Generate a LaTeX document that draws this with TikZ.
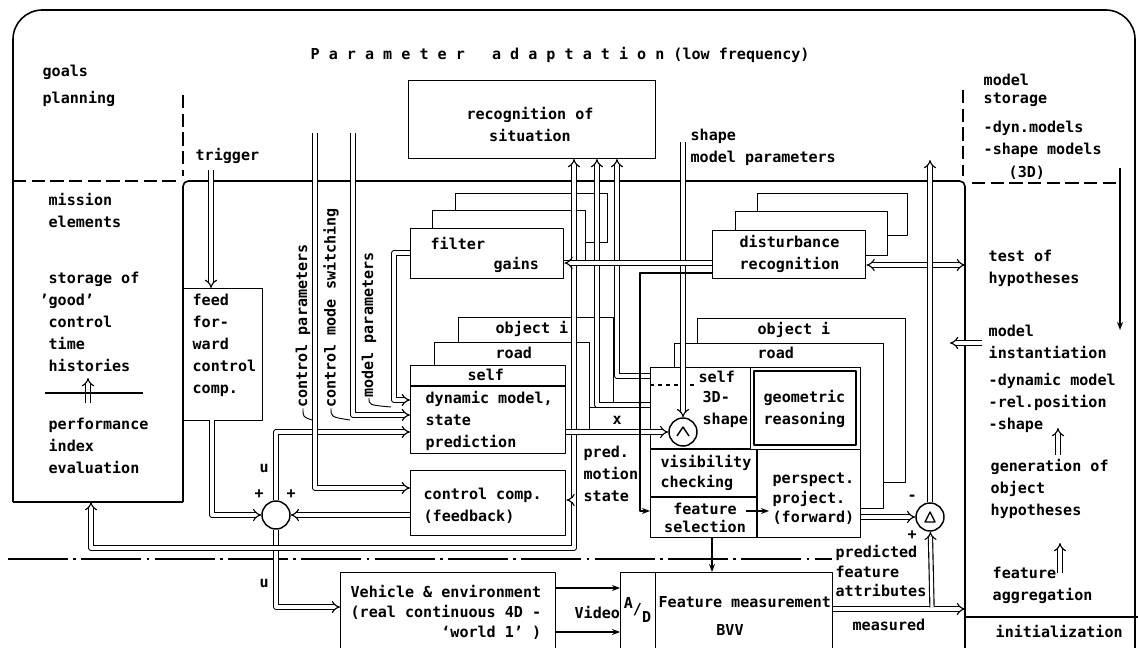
\documentclass[tikz,border=0pt]{standalone}
\usepackage{fontspec}
\setmainfont{DejaVu Sans Mono}
\usetikzlibrary{arrows.meta}
\newcommand\tx{\fontsize{11.3}{16.5}\selectfont\bfseries}
\newcommand\bx[5]{\node[box, anchor=north west, minimum width={(#4-#2)*0.75pt}, minimum height={(#5-#3)*0.75pt}] (#1) at (#2,#3) {};}
\begin{document}
\begin{tikzpicture}[x=0.75pt,y=-0.75pt, line width=1pt, line join=round,
 lab/.style={font=\tx, inner sep=0pt, align=left, anchor=west},
 clab/.style={font=\tx, inner sep=0pt, align=center, anchor=center},
 box/.style={draw, fill=white, line width=1.1pt, inner sep=0pt},
 dbl/.style={double, double distance=2.3pt, line width=0.85pt},
 dbla/.style={dbl, -{Implies}},
 arr/.style={-{Stealth[length=6pt,width=4.5pt]}},
 sumc/.style={draw, circle, fill=white, line width=1.1pt, inner sep=0pt, minimum size=21pt},
 dsh/.style={dash pattern=on 10pt off 4pt, line width=1.1pt},
 dshdot/.style={dash pattern=on 45pt off 4pt on 2pt off 4pt, line width=1.1pt}]
\useasboundingbox (0,0) rectangle (1138,648);
\fill[white] (0,0) rectangle (1138,648);

% frame and regions
\draw[line width=1.2pt, rounded corners=22pt] (13,502) -- (13,10) -- (1135,10) -- (1135,660);
\draw[line width=1.2pt] (13,502) -- (183,502);
\draw[line width=1.2pt, rounded corners=4pt] (183,502) -- (183,181) -- (965,181) -- (965,660);
\draw[dsh] (13,181) -- (179,181);
\draw[dsh] (183,95) -- (183,176);
\draw[dsh] (963,90) -- (963,176);
\draw[dsh] (972,183) -- (1118,183);
\draw[dshdot] (8,559) -- (832,559);
\draw[line width=1.1pt] (965,617) -- (1138,617);

% boxes
\bx{feed}{183}{288}{262}{420}
\bx{recog}{408}{80}{655}{158}
\bx{filtC}{455}{193}{607}{242}
\bx{filtB}{432}{210}{585}{260}
\bx{filt}{410}{228}{563}{278}
\bx{distC}{757}{193}{907}{235}
\bx{distB}{735}{211}{887}{255}
\bx{dist}{712}{230}{865}{278}
\bx{dynC}{458}{317}{613}{407}
\bx{dynB}{434}{342}{589}{430}
\bx{dyn}{410}{365}{565}{453}
\draw[line width=1.1pt] (410,386) -- (565,386);
\bx{ctrl}{410}{470}{565}{535}
\bx{geoC}{697}{318}{905}{482}
\bx{geoB}{674}{343}{883}{508}
\bx{geo}{650}{367}{860}{537}
\bx{georeas}{750}{367}{860}{449}
\draw[line width=1.1pt] (754,371) rectangle (856,445);
\draw[dashed, line width=1pt] (650,385) -- (697,385);
\draw[line width=1.1pt] (650,449) -- (750,449);
\draw[line width=1.1pt] (757,449) -- (757,537);
\draw[line width=1.1pt] (650,497) -- (757,497);
\bx{veh}{340}{572}{555}{660}
\bx{ad}{620}{572}{655}{660}
\bx{feat}{655}{572}{832}{660}

% circles
\node[sumc] (sum) at (276,515) {};
\node[sumc] (hat) at (683,432) {};
\node[sumc] (delta) at (930,517) {};

% connectors (double)
\draw[dbla] (211,170) -- (feed.north -| 211,0);
\draw[dbla] (212,420) -- (212,515) -- (sum);
\draw[dbla] (sum) -- (276,432) -- (dyn.west |- 0,432);
\draw[dbla] (sum) -- (276,607) -- (veh.west |- 0,607);
\draw[dbla] (ctrl.west |- 0,515) -- (sum);
\draw[dbla] (315,133) -- (315,488) -- (ctrl.west |- 0,488);
\draw[dbla] (353,133) -- (353,415) -- (dyn.west |- 0,415);
\draw[dbla] (filt.west |- 0,253) -- (394,253) -- (394,400) -- (dyn.west |- 0,400);
\draw[dbl, {Implies}-{Implies}] (574,159) -- (574,548) -- (91,548) -- (91,502);
\draw[dbla] (573.2,500) -- (ctrl.east |- 0,500);
\draw[dbl, {Implies}-] (597,159) -- (597,405) -- (geo.west |- 0,405);
\draw[dbl, {Implies}-] (617,159) -- (617,376) -- (geo.west |- 0,376);
\draw[dbla] (dyn.east |- 0,432) -- (hat);
\draw[dbla] (683,142) -- (hat);
\draw[dbla] (dist.west |- 0,263) -- (filt.east |- 0,263);
\draw[dbl, {Implies}-{Implies}] (dist.east |- 0,265) -- (965,265);
\draw[dbla] (geo.east |- 0,517) -- (delta);
\draw[dbla] (delta) -- (930,160);
\draw[dbla] (feat.east |- 0,609) -- (965,609);
\draw[dbla] (932,607.2) -- (delta);
\draw[dbla] (982,343) -- (950,343);
\draw[dbla] (1058,455) -- (1058,428);
\draw[dbla] (1060,573) -- (1060,543);
\draw[dbla] (88,403) -- (88,378);
\draw[line width=1.1pt] (45,393) -- (143,393);

% connectors (single)
\draw[arr] (dist.west |- 0,273) -- (640,273) -- (640,511) -- (geo.west |- 0,511);
\draw[arr] (746,511) -- (769,511);
\draw[arr] (712,537) -- (feat.north -| 712,0);
\draw[arr] (veh.east |- 0,588) -- (ad.west |- 0,588);
\draw[arr] (veh.east |- 0,632) -- (ad.west |- 0,632);
\draw[arr] (1120,168) -- (1120,330);

% circle symbols
\draw[line width=1.1pt] (677,436) -- (683,427) -- (689,436);
\draw[line width=1pt] (925,522) -- (930,512) -- (935,522) -- cycle;

% texts
\node[lab] (title) at (310,55) {P~a~r~a~m~e~t~e~r~~~a~d~a~p~t~a~t~i~o~n~(low~frequency)};
\node[lab] (goals) at (42,86) {goals\\[4pt]planning};
\node[lab] (trig) at (195,156) {trigger};
\node[lab] (mission) at (48,210) {mission\\elements};
\node[lab] (storage) at (48,322) {storage of\\\llap{’}good’\\control\\time\\histories};
\node[lab] (perf) at (48,446) {performance\\index\\evaluation};
\node[lab] (feedtxt) at (192,345) {feed\\for-\\ward\\control\\comp.};
\node[lab, rotate=90, anchor=center] (cp) at (303,326) {control parameters};
\node[lab, rotate=90, anchor=center] (cms) at (331,308) {control mode switching};
\node[lab, rotate=90, anchor=center] (mp) at (369,325) {model parameters};
\draw[line width=0.7pt] (cp.west) .. controls (303,417) .. (312,420);
\draw[line width=0.7pt] (cms.west) .. controls (331,417) .. (350,420);
\draw[line width=0.7pt] (mp.west) .. controls (369,405) .. (391,407);
\node[clab] (recogtxt) at (530,124) {recognition of\\situation};
\node[lab] (shape) at (690,147) {shape\\model parameters};
\node[lab] (filter) at (430,243) {filter};
\node[lab] (gains) at (493,265) {gains};
\node[lab] (disttxt) at (739,254) {disturbance\\recognition};
\node[lab] (ms1) at (983,80) {model};
\node[lab] (ms2) at (983,100) {storage};
\node[lab] (ms3) at (983,128) {-dyn.models};
\node[lab] (ms4) at (983,150) {-shape models};
\node[lab] (ms5) at (1008,173) {(3D)};
\node[lab] (test) at (988,268) {test of\\hypotheses};
\node[lab] (inst) at (988,342) {model\\instantiation};
\node[lab] (instl) at (988,403) {-dynamic model\\-rel.position\\-shape};
\node[lab] (gen) at (990,489) {generation of\\object\\hypotheses};
\node[lab] (aggr) at (992,585) {feature\\aggregation};
\node[lab] (init) at (995,631) {initialization};
\node[lab] (dobj) at (495,329) {object i};
\node[lab] (droad) at (495,353) {road};
\node[lab] (dself) at (467,375) {self};
\node[lab] (dyntxt) at (425,421) {dynamic model,\\state\\prediction};
\node[lab] (ctrltxt) at (423,506) {control comp.\\(feedback)};
\node[lab] (xl) at (612,420) {x};
\node[lab] (pms) at (583,474) {pred.\\motion\\state};
\node[lab] (u1) at (259,468) {u};
\node[lab] (u2) at (259,583) {u};
\node[lab] (p1) at (254,494) {+};
\node[lab] (p2) at (286,494) {+};
\node[lab] (gobj) at (757,330) {object i};
\node[lab] (groad) at (757,353) {road};
\node[lab] (gself) at (698,377) {self};
\node[lab] (g3d) at (702,409) {3D-\\shape};
\node[lab] (georeastxt) at (763,409) {geometric\\reasoning};
\node[lab] (vis) at (660,473) {visibility\\[-2pt]checking};
\node[clab] (fsel) at (705,518) {feature\\[-3pt]selection};
\node[lab] (persp) at (772,499) {perspect.\\[-2pt]project.\\[-2pt](forward)};
\node[lab] (minus) at (907,498) {-};
\node[lab] (plus) at (907,535) {+};
\node[lab] (pfa) at (835,571) {predicted\\[-2pt]feature\\[-2pt]attributes};
\node[lab] (meas) at (852,625) {measured};
\node[lab] (vehtxt) at (350,612) {Vehicle \& environment\\[-1.5pt](real continuous 4D -\\[-1.5pt]\hspace*{10\fontcharwd\font`0}‘world 1’ )};
\node[lab] (video) at (574,612) {Video};
\node[clab] (adtxt) at (637.5,610) {\raisebox{5pt}{A}/\raisebox{-6pt}{D}};
\node[lab] (feattxt) at (658,602) {Feature measurement};
\node[clab] (bvv) at (730,630) {BVV};
\end{tikzpicture}
\end{document}
